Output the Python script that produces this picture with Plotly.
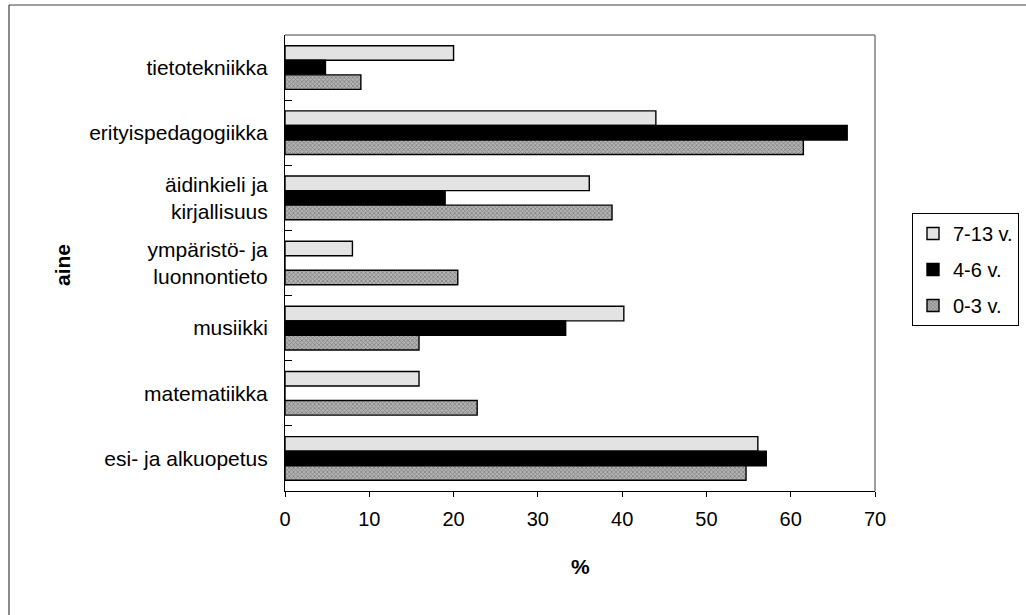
import plotly.graph_objects as go

# Subjects (top to bottom) and share of respondents (%) per age group
subjects = [
    "tietotekniikka",
    "erityispedagogiikka",
    "äidinkieli ja<br>kirjallisuus",
    "ympäristö- ja<br>luonnontieto",
    "musiikki",
    "matematiikka",
    "esi- ja alkuopetus",
]
age_7_13 = [20.0, 44.0, 36.1, 8.0, 40.2, 15.9, 56.1]
age_4_6 = [4.8, 66.7, 19.0, 0.0, 33.3, 0.0, 57.1]
age_0_3 = [9.0, 61.5, 38.8, 20.5, 15.9, 22.8, 54.7]
x_ticks = [0, 10, 20, 30, 40, 50, 60, 70]

W, H = 1026, 615
L, R, T, B = 285, 151, 35, 124
FONT = "Liberation Sans, Arial, sans-serif"

fig = go.Figure()
fig.add_trace(go.Bar(
    y=subjects, x=age_7_13, orientation="h", name="7-13 v.",
    legendgroup="a",
    marker=dict(color="#e3e3e3", line=dict(color="black", width=1.4)),
))
fig.add_trace(go.Bar(
    y=subjects, x=age_4_6, orientation="h", name="4-6 v.",
    legendgroup="b",
    marker=dict(color="black", line=dict(color="black", width=1.4)),
))
fig.add_trace(go.Bar(
    y=subjects, x=age_0_3, orientation="h", name="0-3 v.",
    legendgroup="c",
    marker=dict(
        color="#b4b4b4",
        line=dict(color="black", width=1.4),
        pattern=dict(shape="x", fgcolor="#4a4a4a", bgcolor="#b4b4b4",
                     size=3, solidity=0.45),
    ),
))


def px_to_paper_x(px):
    return (px - L) / (W - L - R)


def px_to_paper_y(py):
    return (H - B - py) / (H - T - B)


fig.update_layout(
    width=W, height=H,
    margin=dict(l=L, r=R, t=T, b=B, autoexpand=False),
    paper_bgcolor="white", plot_bgcolor="white",
    font=dict(family=FONT, size=20, color="black"),
    barmode="group", bargap=0.33, bargroupgap=0.0,
    showlegend=True,
    legend=dict(
        x=px_to_paper_x(912), y=px_to_paper_y(213),
        xanchor="left", yanchor="top",
        bordercolor="black", borderwidth=1, bgcolor="white",
        font=dict(family=FONT, size=20),
        traceorder="grouped", tracegroupgap=7,
        itemwidth=30,
    ),
    xaxis=dict(
        range=[0, 70], tickvals=x_ticks, ticktext=[str(v) for v in x_ticks],
        showgrid=False, zeroline=False,
        showline=True, linecolor="black", linewidth=1,
        ticks="outside", ticklen=5, tickcolor="black",
        tickfont=dict(size=20), ticklabelstandoff=5,
    ),
    yaxis=dict(
        autorange="reversed", showgrid=False, zeroline=False,
        showline=True, linecolor="black", linewidth=1,
        ticks="inside", ticklen=7, tickcolor="black", tickson="boundaries",
        tickfont=dict(size=21), ticklabelstandoff=12,
    ),
)

# Plot frame (grey top and right edges) and outer chart border
fig.add_shape(type="line", xref="paper", yref="paper", x0=0, x1=1, y0=1, y1=1,
              line=dict(color="#808080", width=1.5))
fig.add_shape(type="line", xref="paper", yref="paper", x0=1, x1=1, y0=0, y1=1,
              line=dict(color="#808080", width=1.5))
fig.add_shape(type="line", xref="paper", yref="paper",
              x0=px_to_paper_x(9), x1=px_to_paper_x(1040),
              y0=px_to_paper_y(5), y1=px_to_paper_y(5),
              line=dict(color="#404040", width=1.2))
fig.add_shape(type="line", xref="paper", yref="paper",
              x0=px_to_paper_x(9), x1=px_to_paper_x(9),
              y0=px_to_paper_y(5), y1=px_to_paper_y(640),
              line=dict(color="#404040", width=1.2))

# Axis titles
fig.add_annotation(text="<b>%</b>", xref="paper", yref="paper",
                   x=0.5, y=px_to_paper_y(566), showarrow=False,
                   font=dict(size=21), xanchor="center", yanchor="middle")
fig.add_annotation(text="<b>aine</b>", xref="paper", yref="paper",
                   x=px_to_paper_x(62), y=px_to_paper_y(265), showarrow=False,
                   textangle=-90, font=dict(size=21),
                   xanchor="center", yanchor="middle")

fig.write_html("out.html")
